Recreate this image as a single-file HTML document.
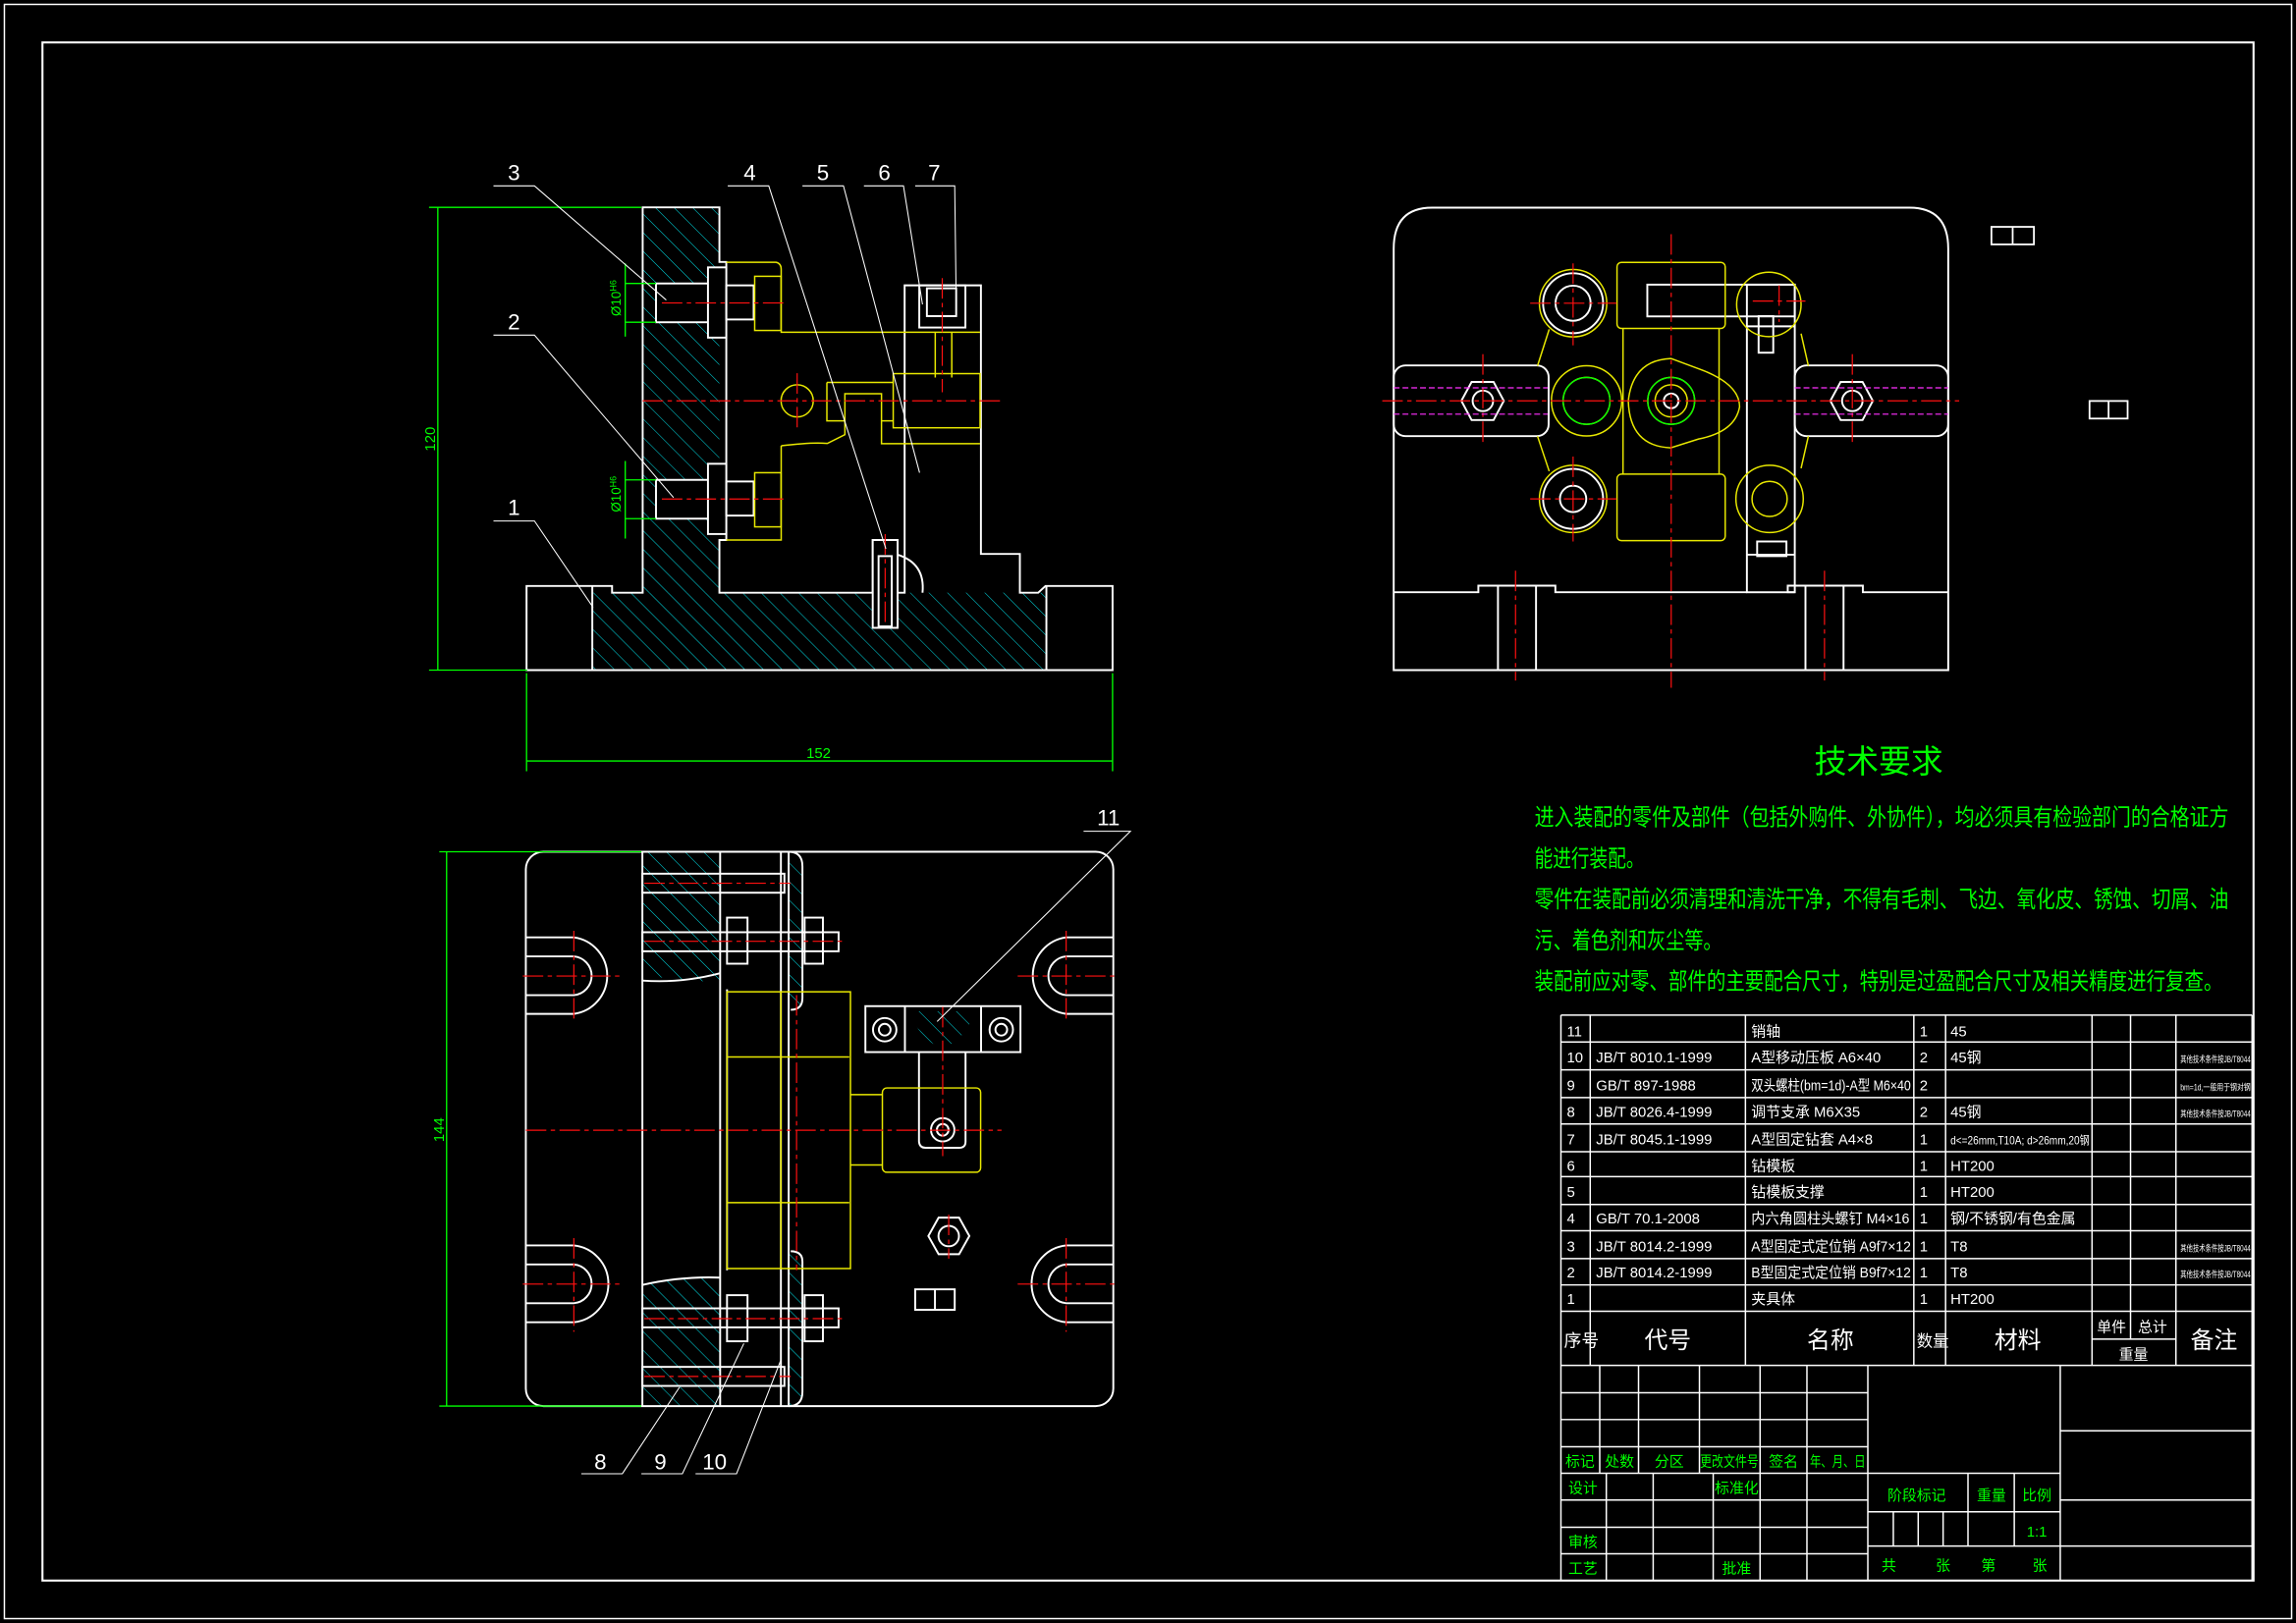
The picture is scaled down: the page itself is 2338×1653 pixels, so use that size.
<!DOCTYPE html>
<html><head><meta charset="utf-8"><style>
html,body{margin:0;padding:0;background:#000;}
svg{display:block;}
text{font-family:"Liberation Sans","Noto Sans CJK SC",sans-serif;}
</style></head><body>
<svg width="2338" height="1653" viewBox="0 0 1568 1109" preserveAspectRatio="none" xmlns="http://www.w3.org/2000/svg">
<defs>
<pattern id="h" patternUnits="userSpaceOnUse" width="9" height="9" patternTransform="rotate(-45)">
<line x1="0" y1="0" x2="0" y2="9" stroke="#00d8e0" stroke-width="0.7"/>
</pattern>
</defs>
<rect width="1568" height="1109" fill="#000"/>
<rect x="3" y="3" width="1562" height="1103" fill="none" stroke="#fff" stroke-width="1"/>
<rect x="29" y="29" width="1510" height="1051" fill="none" stroke="#fff" stroke-width="1.4"/>

<!-- ================= FRONT VIEW ================= -->
<g fill="none" stroke="#fff" stroke-width="1.3">
<path d="M438.9,141.7 H491.3 V405 H438.9 Z" fill="url(#h)" stroke="none"/>
<path d="M404.5,405 H714.6 V457.9 H404.5 Z" fill="url(#h)" stroke="none"/>
<path d="M438.9,141.7 H491.3 V179 H496 V369 H491.3 V405 H596 V369 H613 V405 H617.8 V195 H669.9 V378.5 H696.5 V405 H709 L714,400.4 H759.8 V457.9 H359.6 V400.4 H418 V405 H438.9 Z"/>
<line x1="404.5" y1="400.4" x2="404.5" y2="457.9"/>
<line x1="714.6" y1="400.4" x2="714.6" y2="457.9"/>
<rect x="448" y="193.7" width="35.5" height="26.5" fill="#000"/>
<rect x="483.5" y="182.7" width="12.5" height="48" fill="#000"/>
<rect x="496" y="195" width="18.7" height="23.3"/>
<rect x="448" y="327.9" width="35.5" height="26.5" fill="#000"/>
<rect x="483.5" y="316.9" width="12.5" height="48" fill="#000"/>
<rect x="496" y="329" width="18.7" height="23.3"/>
<rect x="596" y="369" width="17" height="60" fill="#000"/>
<rect x="600" y="380" width="9" height="48"/>
<path d="M613,379 Q632,385 630,405"/>
<rect x="627.8" y="195" width="31.5" height="28.8"/>
<rect x="633" y="197" width="20" height="19"/>
</g>
<g fill="none" stroke="#e8e800" stroke-width="1">
<path d="M496,179.2 H530 Q533.5,180 533.5,184 V227 H669.3"/>
<rect x="515.4" y="188.8" width="18" height="37"/>
<rect x="610" y="255.3" width="59.3" height="37"/>
<path d="M638.7,227 V258 M650,227 V258"/>
<path d="M564.7,261.3 H610 M564.7,261.3 V287.6 H577 V269 H602 V303.2 H669.3 M602,287.6 H610"/>
<circle cx="544.4" cy="273.9" r="11"/>
<path d="M533.5,304.6 Q555,302 565,303 L577,297 V287.6"/>
<path d="M533.5,304.6 V369 H496"/>
<rect x="515.4" y="323" width="18" height="37"/>
</g>
<g stroke="#ff1010" stroke-width="0.8" stroke-dasharray="14,3,3,3">
<line x1="438.9" y1="273.9" x2="683" y2="273.9"/>
<line x1="544.4" y1="255" x2="544.4" y2="293"/>
<line x1="643.5" y1="190" x2="643.5" y2="268"/>
<line x1="452" y1="207" x2="535" y2="207"/>
<line x1="452" y1="341" x2="535" y2="341"/>
<line x1="604.5" y1="365" x2="604.5" y2="428"/>
</g>
<g stroke="#00ff00" stroke-width="0.9" fill="none">
<line x1="293" y1="141.7" x2="438" y2="141.7"/>
<line x1="293" y1="457.9" x2="360" y2="457.9"/>
<line x1="299" y1="141.7" x2="299" y2="457.9"/>
<line x1="359.6" y1="460" x2="359.6" y2="527"/>
<line x1="759.8" y1="460" x2="759.8" y2="527"/>
<line x1="359.6" y1="520" x2="759.8" y2="520"/>
<line x1="427" y1="180" x2="427" y2="230"/><line x1="427" y1="193.7" x2="448" y2="193.7"/><line x1="427" y1="220.2" x2="448" y2="220.2"/>
<line x1="427" y1="315" x2="427" y2="368"/><line x1="427" y1="327.9" x2="448" y2="327.9"/><line x1="427" y1="354.4" x2="448" y2="354.4"/>
</g>
<g fill="#00ff00" font-size="10">
<text transform="translate(297,300) rotate(-90)" text-anchor="middle">120</text>
<text x="559" y="518" text-anchor="middle">152</text>
<text transform="translate(424,216) rotate(-90)" font-size="9">Ø10<tspan font-size="6" dy="-3">H6</tspan></text>
<text transform="translate(424,350) rotate(-90)" font-size="9">Ø10<tspan font-size="6" dy="-3">H6</tspan></text>
</g>
<g stroke="#fff" stroke-width="0.7" fill="none">
<path d="M337,127 H365 L455,205"/>
<path d="M337,229 H365 L460,340"/>
<path d="M337,356 H365 L405,415"/>
<path d="M497,127 H525 L605,375"/>
<path d="M548,127 H576 L628,323"/>
<path d="M590,127 H617 L630,208"/>
<path d="M625,127 H652 L653,205"/>
</g>
<g fill="#fff" font-size="15" font-family="Liberation Serif" text-anchor="middle">
<text x="351" y="123">3</text><text x="351" y="225">2</text><text x="351" y="352">1</text>
<text x="512" y="123">4</text><text x="562" y="123">5</text><text x="604" y="123">6</text><text x="638" y="123">7</text>
</g>

<!-- ================= TOP VIEW ================= -->
<g fill="none" stroke="#fff" stroke-width="1.3">
<path d="M951.8,457.9 V170 Q951.8,141.9 978,141.9 H1304 Q1330.5,141.9 1330.5,170 V457.9 Z"/>
<path d="M951.8,404.7 H1009.6 V400.2 H1062.2 V404.7 H1193 M1225.7,404.7 H1220.9 V400.2 H1272.2 V404.7 H1330.5"/>
<path d="M1023,400.2 V457.9 M1049,400.2 V457.9 M1233,400.2 V457.9 M1259,400.2 V457.9"/>
<rect x="1193" y="194.5" width="32.7" height="210.2"/>
<line x1="1193" y1="223" x2="1225.7" y2="223"/>
<line x1="1193" y1="379" x2="1225.7" y2="379"/>
<rect x="1125" y="194.5" width="100.7" height="21.7"/>
<rect x="951.8" y="249.7" width="105.8" height="48.3" rx="8"/>
<rect x="1225.7" y="249.7" width="104.8" height="48.3" rx="8"/>
<circle cx="1074.3" cy="207.2" r="20.5"/><circle cx="1074.3" cy="207.2" r="12"/>
<circle cx="1074.3" cy="340.9" r="20.5"/><circle cx="1074.3" cy="340.9" r="9"/>
<circle cx="1141.3" cy="273.9" r="5"/>
<polygon points="998,273.9 1005,261 1020,261 1027,273.9 1020,287 1005,287"/>
<circle cx="1012.7" cy="273.9" r="7"/>
<polygon points="1250,273.9 1257,261 1272,261 1279,273.9 1272,287 1257,287"/>
<circle cx="1265" cy="273.9" r="7"/>
<rect x="1201" y="216" width="10" height="25"/>
<rect x="1200" y="370" width="20" height="10"/>
</g>
<g fill="none" stroke="#e8e800" stroke-width="1">
<rect x="1104.3" y="179.3" width="73.9" height="45.1" rx="3"/>
<rect x="1104.3" y="324" width="73.9" height="45.4" rx="3"/>
<path d="M1108.4,224.4 V324 M1174,224.4 V324"/>
<circle cx="1083.5" cy="273.9" r="24"/><circle cx="1083.5" cy="273.9" r="16"/>
<path d="M1141.3,245 L1160,252 Q1188,262 1188,278 Q1185,295 1160,300 L1141,306 Q1113,305 1112,274 Q1115,246 1141.3,245 Z"/>
<circle cx="1141.3" cy="273.9" r="16"/><circle cx="1141.3" cy="273.9" r="11"/>
<circle cx="1074.3" cy="207.2" r="23"/><circle cx="1074.3" cy="340.9" r="23"/>
<circle cx="1208.5" cy="340.9" r="23"/><circle cx="1208.5" cy="340.9" r="12"/>
<circle cx="1208" cy="208" r="22"/>
<path d="M1050,250 L1058,225 M1050,298 L1058,322 M1235,250 L1230,228 M1235,298 L1230,320"/>
</g>
<g stroke="#00ff00" fill="none" stroke-width="0.9"><circle cx="1083.5" cy="273.9" r="16"/><circle cx="1141.3" cy="273.9" r="16"/></g>
<g stroke="#ff1010" stroke-width="0.8" stroke-dasharray="14,3,3,3">
<line x1="944" y1="273.9" x2="1338" y2="273.9"/>
<line x1="1141.3" y1="160" x2="1141.3" y2="470"/>
<line x1="1035" y1="390" x2="1035" y2="465"/><line x1="1246" y1="390" x2="1246" y2="465"/>
<line x1="1074.3" y1="180" x2="1074.3" y2="236"/><line x1="1045" y1="207.2" x2="1104" y2="207.2"/>
<line x1="1074.3" y1="312" x2="1074.3" y2="370"/><line x1="1045" y1="340.9" x2="1104" y2="340.9"/>
<line x1="1012.7" y1="242" x2="1012.7" y2="305"/><line x1="1265" y1="242" x2="1265" y2="305"/>
<line x1="1215" y1="195" x2="1215" y2="220"/><line x1="1197" y1="205.7" x2="1233" y2="205.7"/>
</g>
<g stroke="#ff30ff" stroke-width="0.8" stroke-dasharray="4,2" fill="none">
<path d="M951.8,265 H1057 M951.8,283 H1057 M1225.7,265 H1330.5 M1225.7,283 H1330.5"/>
</g>
<g fill="none" stroke="#fff" stroke-width="1.2">
<rect x="1360" y="155" width="29" height="12"/><line x1="1374.5" y1="155" x2="1374.5" y2="167"/>
<rect x="1427" y="274" width="26" height="12"/><line x1="1440" y1="274" x2="1440" y2="286"/>
</g>

<!-- ================= BOTTOM VIEW ================= -->
<path d="M438.7,582 H491.8 V670 Q465,672 438.7,665 Z M438.7,878 Q465,872 491.8,873 V960.8 H438.7 Z" fill="url(#h)"/>
<path d="M538.6,582 Q548,582 548,592 V687 H538.6 Z M538.6,857 H548 V951 Q548,960.8 538.6,960.8 Z" fill="url(#h)"/>
<g fill="none" stroke="#fff" stroke-width="1.3">
<rect x="359.1" y="582" width="401.2" height="378.8" rx="12"/>
<line x1="438.7" y1="582" x2="438.7" y2="960.8"/>
<path d="M491.8,582 V960.8 M496.5,676 V868 M533.3,582 V960.8 M538.6,582 V960.8"/>
<path d="M538.6,582 Q548,582 548,592 V682 Q548,690 540,690 M538.6,960.8 Q548,960.8 548,951 V862 Q548,855 540,855"/>
<path d="M359.1,640.5 H391.9 A26.4,26.4 0 0 1 391.9,692.8 H359.1 M359.1,653.5 H391.9 A13.3,13.3 0 0 1 391.9,680 H359.1"/>
<path d="M359.1,851 H391.9 A26.4,26.4 0 0 1 391.9,903.5 H359.1 M359.1,864 H391.9 A13.3,13.3 0 0 1 391.9,890.5 H359.1"/>
<path d="M760.3,640.5 H728.1 A26.4,26.4 0 0 0 728.1,692.8 H760.3 M760.3,653.5 H728.1 A13.3,13.3 0 0 0 728.1,680 H760.3"/>
<path d="M760.3,851 H728.1 A26.4,26.4 0 0 0 728.1,903.5 H760.3 M760.3,864 H728.1 A13.3,13.3 0 0 0 728.1,890.5 H760.3"/>
<rect x="438.7" y="597" width="97" height="13"/>
<rect x="438.7" y="637" width="134" height="13"/>
<rect x="496.5" y="627" width="14" height="31.5"/>
<rect x="549.5" y="627" width="12.5" height="31.5"/>
<rect x="438.7" y="894" width="134" height="13"/>
<rect x="496.5" y="885" width="14" height="31.5"/>
<rect x="549.5" y="885" width="12.5" height="31.5"/>
<rect x="438.7" y="934" width="97" height="13"/>
<path d="M438.7,670 Q465,672 491.8,665 M438.7,878 Q465,872 491.8,873"/>
<rect x="591" y="687.5" width="105.9" height="31.4"/>
<path d="M618,687.5 V718.9 M670,687.5 V718.9"/>
<path d="M627.6,718.9 V780 Q628,784.3 632,784.3 H655 Q659.4,784.3 659.4,780 V718.9"/>
<circle cx="604.2" cy="703.6" r="8"/><circle cx="604.2" cy="703.6" r="4"/>
<circle cx="683.8" cy="703.6" r="8"/><circle cx="683.8" cy="703.6" r="4"/>
<circle cx="643.8" cy="772" r="8"/><circle cx="643.8" cy="772" r="4"/>
<polygon points="634,844.6 641,832 655,832 662,844.6 655,857 641,857"/>
<circle cx="647.9" cy="844.6" r="7"/>
<rect x="625" y="881" width="27" height="14"/><line x1="638.5" y1="881" x2="638.5" y2="895"/>
</g>
<path d="M625,700 Q643.8,730 662,700 L662,691 H625 Z" fill="url(#h)"/>
<g fill="none" stroke="#e8e800" stroke-width="1">
<rect x="496.5" y="677.7" width="84.3" height="189.1"/>
<path d="M496.5,722.2 H580 M496.5,821.8 H580 M533.3,677.7 V866.8"/>
<rect x="602.6" y="743.4" width="67.1" height="57.6" rx="3"/>
<path d="M580.8,748 H602.6 M580.8,796 H602.6"/>
</g>
<g stroke="#ff1010" stroke-width="0.8" stroke-dasharray="14,3,3,3">
<line x1="359.1" y1="772.3" x2="684" y2="772.3"/>
<line x1="544" y1="680" x2="544" y2="868"/>
<line x1="391.9" y1="636" x2="391.9" y2="698"/><line x1="357" y1="666.9" x2="425" y2="666.9"/>
<line x1="391.9" y1="846" x2="391.9" y2="910"/><line x1="357" y1="877.4" x2="425" y2="877.4"/>
<line x1="728.1" y1="636" x2="728.1" y2="698"/><line x1="695" y1="666.9" x2="762" y2="666.9"/>
<line x1="728.1" y1="846" x2="728.1" y2="910"/><line x1="695" y1="877.4" x2="762" y2="877.4"/>
<line x1="440" y1="603.5" x2="540" y2="603.5"/><line x1="440" y1="643.2" x2="575" y2="643.2"/>
<line x1="440" y1="901" x2="575" y2="901"/><line x1="440" y1="940.5" x2="540" y2="940.5"/>
<line x1="643.8" y1="688" x2="643.8" y2="790"/><line x1="647.9" y1="830" x2="647.9" y2="860"/>
</g>
<g stroke="#00ff00" stroke-width="0.9" fill="none">
<line x1="300" y1="582" x2="438" y2="582"/><line x1="300" y1="960.8" x2="438" y2="960.8"/>
<line x1="305" y1="582" x2="305" y2="960.8"/>
</g>
<text transform="translate(303,772) rotate(-90)" fill="#00ff00" font-size="10" text-anchor="middle">144</text>
<g stroke="#fff" stroke-width="0.7" fill="none">
<path d="M397,1007 H425 L464,948"/>
<path d="M438,1007 H466 L508,918"/>
<path d="M475,1007 H503 L533,930"/>
<path d="M740,568 H772 L640,698"/>
</g>
<g fill="#fff" font-size="15" font-family="Liberation Serif" text-anchor="middle">
<text x="410" y="1004">8</text><text x="451" y="1004">9</text><text x="488" y="1004">10</text><text x="757" y="564">11</text>
</g>

<!-- ================= TECH REQUIREMENTS ================= -->
<g fill="#00ff00" font-family="'Noto Sans CJK SC',sans-serif">
<text x="1283" y="528" font-size="22" text-anchor="middle">技术要求</text>
<text x="1048" y="564" font-size="16" textLength="474" lengthAdjust="spacingAndGlyphs">进入装配的零件及部件（包括外购件、外协件），均必须具有检验部门的合格证方</text>
<text x="1048" y="592" font-size="16" textLength="75" lengthAdjust="spacingAndGlyphs">能进行装配。</text>
<text x="1048" y="620" font-size="16" textLength="474" lengthAdjust="spacingAndGlyphs">零件在装配前必须清理和清洗干净，不得有毛刺、飞边、氧化皮、锈蚀、切屑、油</text>
<text x="1048" y="648" font-size="16" textLength="128" lengthAdjust="spacingAndGlyphs">污、着色剂和灰尘等。</text>
<text x="1048" y="676" font-size="16" textLength="470" lengthAdjust="spacingAndGlyphs">装配前应对零、部件的主要配合尺寸，特别是过盈配合尺寸及相关精度进行复查。</text>
</g>

<!-- ================= PARTS TABLE ================= -->
<g stroke="#fff" stroke-width="1" fill="none">
<path d="M1066,693.6 H1538 M1066,712 H1538 M1066,731 H1538 M1066,750 H1538 M1066,768 H1538 M1066,787 H1538 M1066,804 H1538 M1066,823 H1538 M1066,841 H1538 M1066,860 H1538 M1066,878 H1538 M1066,896 H1538 M1066,933 H1538 M1428.7,915 H1486"/>
<path d="M1066,693.6 V1080 M1086,693.6 V933 M1192,693.6 V933 M1307,693.6 V933 M1328.7,693.6 V933 M1428.7,693.6 V933 M1455,693.6 V915 M1486,693.6 V933 M1538,693.6 V1080"/>
</g>
<g fill="#fff" font-size="10" font-family="'Liberation Serif','Noto Sans CJK SC',serif">
<text x="1070" y="708">11</text><text x="1196" y="708">销轴</text><text x="1311" y="708">1</text><text x="1332" y="708">45</text>
<text x="1070" y="726">10</text><text x="1090" y="726">JB/T 8010.1-1999</text><text x="1196" y="726">A型移动压板 A6×40</text><text x="1311" y="726">2</text><text x="1332" y="726">45钢</text>
<text x="1070" y="745">9</text><text x="1090" y="745">GB/T 897-1988</text><text x="1196" y="745" textLength="109" lengthAdjust="spacingAndGlyphs">双头螺柱(bm=1d)-A型 M6×40</text><text x="1311" y="745">2</text>
<text x="1070" y="763">8</text><text x="1090" y="763">JB/T 8026.4-1999</text><text x="1196" y="763">调节支承 M6X35</text><text x="1311" y="763">2</text><text x="1332" y="763">45钢</text>
<text x="1070" y="782">7</text><text x="1090" y="782">JB/T 8045.1-1999</text><text x="1196" y="782">A型固定钻套 A4×8</text><text x="1311" y="782">1</text><text x="1332" y="782" font-size="8" textLength="95" lengthAdjust="spacingAndGlyphs">d&lt;=26mm,T10A; d&gt;26mm,20钢</text>
<text x="1070" y="800">6</text><text x="1196" y="800">钻模板</text><text x="1311" y="800">1</text><text x="1332" y="800">HT200</text>
<text x="1070" y="818">5</text><text x="1196" y="818">钻模板支撑</text><text x="1311" y="818">1</text><text x="1332" y="818">HT200</text>
<text x="1070" y="836">4</text><text x="1090" y="836">GB/T 70.1-2008</text><text x="1196" y="836" textLength="108" lengthAdjust="spacingAndGlyphs">内六角圆柱头螺钉 M4×16</text><text x="1311" y="836">1</text><text x="1332" y="836">钢/不锈钢/有色金属</text>
<text x="1070" y="855">3</text><text x="1090" y="855">JB/T 8014.2-1999</text><text x="1196" y="855" textLength="109" lengthAdjust="spacingAndGlyphs">A型固定式定位销 A9f7×12</text><text x="1311" y="855">1</text><text x="1332" y="855">T8</text>
<text x="1070" y="873">2</text><text x="1090" y="873">JB/T 8014.2-1999</text><text x="1196" y="873" textLength="109" lengthAdjust="spacingAndGlyphs">B型固定式定位销 B9f7×12</text><text x="1311" y="873">1</text><text x="1332" y="873">T8</text>
<text x="1070" y="891">1</text><text x="1196" y="891">夹具体</text><text x="1311" y="891">1</text><text x="1332" y="891">HT200</text>
<g font-size="6"><text x="1489" y="726" textLength="48" lengthAdjust="spacingAndGlyphs">其他技术条件按JB/T8044</text><text x="1489" y="745" textLength="48" lengthAdjust="spacingAndGlyphs">bm=1d,一般用于钢对钢</text><text x="1489" y="763" textLength="48" lengthAdjust="spacingAndGlyphs">其他技术条件按JB/T8044</text><text x="1489" y="855" textLength="48" lengthAdjust="spacingAndGlyphs">其他技术条件按JB/T8044</text><text x="1489" y="873" textLength="48" lengthAdjust="spacingAndGlyphs">其他技术条件按JB/T8044</text></g>
<text x="1068" y="920" font-size="12">序号</text>
<text x="1139" y="921" font-size="16" text-anchor="middle">代号</text>
<text x="1250" y="921" font-size="16" text-anchor="middle">名称</text>
<text x="1309" y="920" font-size="11">数量</text>
<text x="1378" y="921" font-size="16" text-anchor="middle">材料</text>
<text x="1442" y="910" font-size="10" text-anchor="middle">单件</text>
<text x="1470" y="910" font-size="10" text-anchor="middle">总计</text>
<text x="1457" y="929" font-size="10" text-anchor="middle">重量</text>
<text x="1512" y="921" font-size="16" text-anchor="middle">备注</text>
</g>

<!-- ================= TITLE BLOCK ================= -->
<g stroke="#fff" stroke-width="1" fill="none">
<path d="M1066,951.7 H1275.6 M1066,970 H1275.6 M1066,988.6 H1275.6 M1066,1006.7 H1407 M1066,1025 H1275.6 M1066,1043.6 H1275.6 M1066,1061.7 H1275.6 M1066,1080 H1538"/>
<path d="M1092.5,933 V1006.7 M1119,933 V1006.7 M1160.6,933 V1006.7 M1202,933 V1080 M1234,933 V1080 M1275.6,933 V1080 M1407,933 V1080"/>
<path d="M1097,1006.7 V1080 M1129,1006.7 V1080 M1170,1006.7 V1080"/>
<path d="M1275.6,1033 H1407 M1275.6,1056.4 H1538 M1344,1006.7 V1056.4 M1375.6,1006.7 V1056.4 M1293,1033 V1056.4 M1310,1033 V1056.4 M1327,1033 V1056.4"/>
<path d="M1407,977.7 H1538 M1407,1025 H1538"/>
</g>
<g fill="#00ff00" font-size="10" font-family="'Noto Sans CJK SC',sans-serif" text-anchor="middle">
<text x="1079" y="1002">标记</text><text x="1106" y="1002">处数</text><text x="1140" y="1002">分区</text><text x="1181" y="1002" textLength="40" lengthAdjust="spacingAndGlyphs">更改文件号</text><text x="1218" y="1002">签名</text><text x="1255" y="1002" textLength="38" lengthAdjust="spacingAndGlyphs">年、月、日</text>
<text x="1081" y="1020">设计</text><text x="1186" y="1020">标准化</text>
<text x="1081" y="1057">审核</text>
<text x="1081" y="1075">工艺</text><text x="1186" y="1075">批准</text>
<text x="1309" y="1025">阶段标记</text><text x="1360" y="1025">重量</text><text x="1391" y="1025">比例</text>
<text x="1391" y="1050">1:1</text>
<text x="1290" y="1073">共</text><text x="1327" y="1073">张</text><text x="1358" y="1073">第</text><text x="1393" y="1073">张</text>
</g>
</svg>
</body></html>
